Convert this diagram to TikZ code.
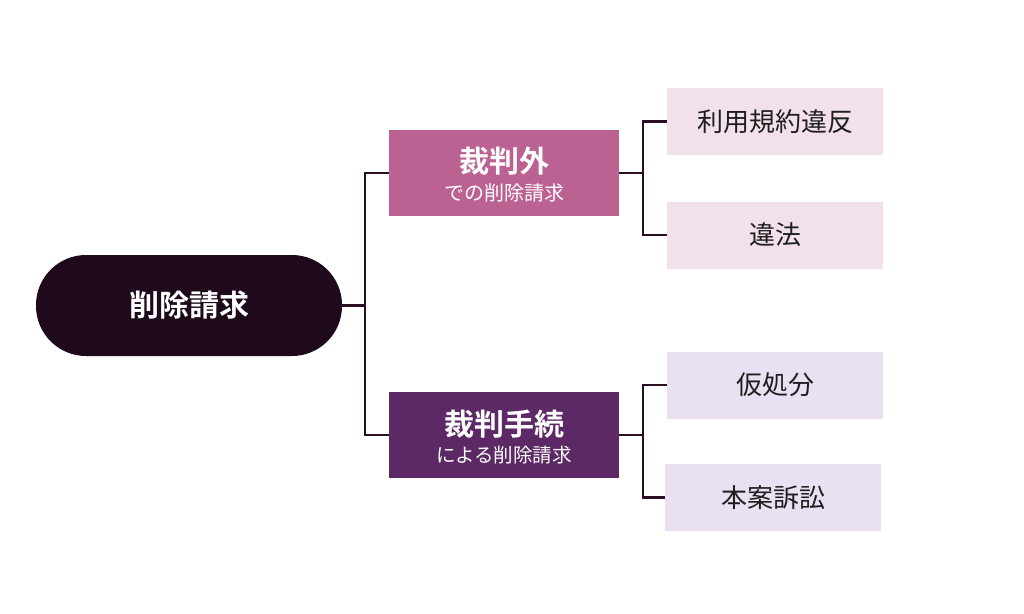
\documentclass[tikz,border=0pt]{standalone}
\usepackage{fontspec}
\newfontfamily\cjk{Noto Sans CJK JP}
\newfontfamily\cjkb{Noto Sans CJK JP Bold}
\definecolor{rootc}{HTML}{1F0A1C}
\definecolor{outc}{HTML}{BC6292}
\definecolor{courtc}{HTML}{5C2865}
\definecolor{pinkleaf}{HTML}{F2E1EB}
\definecolor{lavleaf}{HTML}{E9E0F1}
\definecolor{linec}{HTML}{2A0E22}
\definecolor{textc}{HTML}{1E1E1E}
\begin{document}
\begin{tikzpicture}[x=1pt,y=-1pt,
  conn/.style={draw=linec,line width=2.6pt},
  midbox/.style={minimum width=230pt,minimum height=86pt,inner sep=0pt},
  leafbox/.style={minimum width=216pt,minimum height=67pt,inner sep=0pt,text=textc,font=\cjk\fontsize{26}{30}\selectfont}]
\useasboundingbox (0,0) rectangle (1024,613);
% root
\node[fill=rootc,rounded corners=50pt,minimum width=306pt,minimum height=101pt,text=white,font=\cjkb\fontsize{30}{34}\selectfont] (root) at (189,305.5) {削除請求};
% middle boxes
\node[midbox,fill=outc] (out) at (504,173) {};
\node[text=white,font=\cjkb\fontsize{30}{34}\selectfont] (outt) at (504,161) {裁判外};
\node[text=white,font=\cjk\fontsize{20}{24}\selectfont] (outs) at (504,193) {での削除請求};
\node[midbox,fill=courtc] (court) at (504,435) {};
\node[text=white,font=\cjkb\fontsize{30}{34}\selectfont] (courtt) at (504,424) {裁判手続};
\node[text=white,font=\cjk\fontsize{19.5}{24}\selectfont] (courts) at (504,455) {による削除請求};
% leaves
\node[leafbox,fill=pinkleaf] (l1) at (775,121.5) {利用規約違反};
\node[leafbox,fill=pinkleaf] (l2) at (775,235) {違法};
\node[leafbox,fill=lavleaf] (l3) at (775,385) {仮処分};
\node[leafbox,fill=lavleaf] (l4) at (773,497.5) {本案訴訟};
% connectors
\coordinate (j0) at (365,305.5);
\coordinate (j1) at (643,173);
\coordinate (j2) at (643,435);
\draw[conn] (root.east) -- (j0);
\draw[conn,line join=miter] (out.west) -| (j0) |- (court.west);
\draw[conn] (out.east) -- (j1);
\draw[conn] (l1.west) -| (j1) |- (l2.west);
\draw[conn] (court.east) -- (j2);
\draw[conn] (l3.west) -| (j2) |- (l4.west);
\end{tikzpicture}
\end{document}
